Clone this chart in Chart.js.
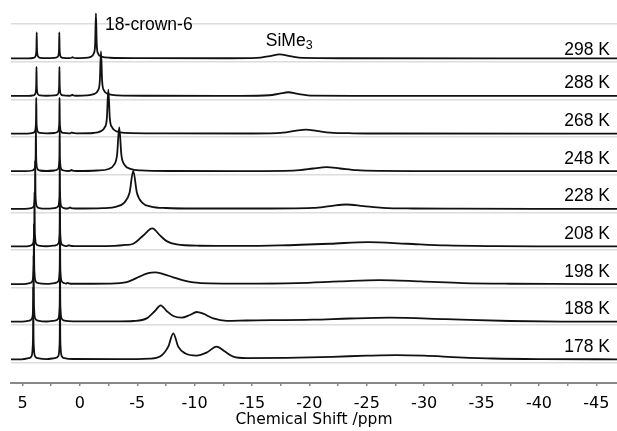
<!DOCTYPE html>
<html>
<head>
<meta charset="utf-8">
<title>VT NMR</title>
<script src="https://cdn.jsdelivr.net/npm/chart.js@4.4.1/dist/chart.umd.min.js"></script>
<style>
  html, body { margin: 0; padding: 0; background: #fff; }
  #wrap { width: 617px; height: 431px; }
</style>
</head>
<body>
<div id="wrap"><canvas id="nmr"></canvas></div>
<script>
/* ── Data: temperatures, spectra as [ppm, intensity] ───── */

var temps = ['298 K', '288 K', '268 K', '248 K', '228 K', '208 K', '198 K', '188 K', '178 K'];

var tickVals = [5, 2.5, 0, -2.5, -5, -7.5, -10, -12.5, -15, -17.5, -20, -22.5, -25,
                -27.5, -30, -32.5, -35, -37.5, -40, -42.5, -45];

var s298 = [
  [6, 0], [4.5, 0], [4.05, 0.5], [3.9, 1.5], [3.81, 5], [3.78, 11], [3.76, 26], [3.74, 11], [3.71, 5], [3.62, 1.5], [3.45, 0.5], [2.9, 0.2],
  [2.2, 0.5], [1.94, 1.5], [1.84, 5], [1.81, 11], [1.79, 26], [1.77, 11], [1.74, 5], [1.65, 1.5], [1.45, 0.5], [0.9, 0.2],
  [0.72, 0.6], [0.64, 1.2], [0.56, 0.6], [0.3, 0.2],
  [-0.4, 0.4], [-0.95, 1.5], [-1.22, 5], [-1.33, 14], [-1.40, 45], [-1.47, 14], [-1.58, 5], [-1.88, 1.8], [-2.6, 0.6], [-5, 0.2],
  [-13, 0.1], [-15.4, 0.4], [-16.55, 2.3], [-17.4, 4], [-18.3, 2.3], [-19.4, 0.4], [-23, 0.1], [-46.8, 0]
];

var s288 = [
  [6, 0], [4.5, 0], [4.06, 0.5], [3.91, 1.6], [3.83, 5.5], [3.8, 12], [3.78, 29], [3.76, 12], [3.73, 5.5], [3.64, 1.6], [3.47, 0.5], [2.9, 0.2],
  [2.2, 0.5], [1.93, 1.6], [1.83, 5.5], [1.8, 12], [1.78, 29], [1.76, 12], [1.73, 5.5], [1.64, 1.6], [1.44, 0.5], [0.9, 0.2],
  [0.74, 0.6], [0.66, 1.2], [0.58, 0.6], [0.3, 0.2],
  [-0.6, 0.5], [-1.2, 1.8], [-1.58, 5.5], [-1.74, 15], [-1.84, 44.5], [-1.94, 15], [-2.1, 5.5], [-2.5, 1.8], [-3.3, 0.6], [-6, 0.2],
  [-14, 0.1], [-16.5, 0.7], [-17.4, 2.3], [-18.16, 3.7], [-19.0, 2], [-20.3, 0.3], [-24, 0.1], [-46.8, 0]
];

var s268 = [
  [6, 0], [4.6, 0], [4.1, 0.6], [3.94, 1.9], [3.85, 6.5], [3.82, 14], [3.8, 36], [3.78, 14], [3.75, 6.5], [3.66, 1.9], [3.48, 0.6], [2.9, 0.2],
  [2.2, 0.6], [1.92, 1.9], [1.82, 6.5], [1.79, 14], [1.77, 36], [1.75, 14], [1.72, 6.5], [1.63, 1.9], [1.43, 0.6], [0.9, 0.2],
  [0.78, 0.6], [0.7, 1.3], [0.62, 0.6], [0.3, 0.2],
  [-1.2, 0.6], [-1.8, 2.2], [-2.15, 6], [-2.35, 15], [-2.48, 44], [-2.61, 15], [-2.82, 6], [-3.2, 2.2], [-4.0, 0.7], [-7, 0.2],
  [-15, 0.1], [-17.7, 1], [-18.74, 2.7], [-19.7, 4], [-20.63, 2.7], [-21.8, 1], [-23.8, 0.3], [-27, 0.1], [-46.8, 0]
];

var s248 = [
  [6, 0], [4.7, 0], [4.15, 0.7], [3.97, 2.2], [3.88, 7.5], [3.85, 16], [3.83, 42], [3.81, 16], [3.78, 7.5], [3.69, 2.2], [3.5, 0.7], [2.9, 0.2],
  [2.2, 0.7], [1.91, 2.2], [1.81, 7.5], [1.78, 16], [1.76, 42], [1.74, 16], [1.71, 7.5], [1.62, 2.2], [1.42, 0.7], [0.95, 0.2],
  [0.82, 0.6], [0.73, 1.3], [0.64, 0.6], [0.3, 0.2],
  [-1.5, 0.7], [-2.5, 2.2], [-2.95, 6], [-3.24, 16], [-3.43, 44], [-3.62, 16], [-3.92, 6], [-4.4, 2.4], [-5.3, 0.8], [-8, 0.2],
  [-16, 0.1], [-19.17, 1], [-20.33, 2.7], [-21.5, 4], [-22.66, 2.7], [-24.1, 1], [-26.1, 0.3], [-30, 0.1], [-46.8, 0]
];

var s228 = [
  [6, 0], [4.8, 0], [4.22, 0.8], [4.03, 2.4], [3.94, 8.5], [3.91, 18], [3.89, 48], [3.87, 18], [3.84, 8.5], [3.75, 2.4], [3.55, 0.8], [2.9, 0.2],
  [2.2, 0.8], [1.9, 2.4], [1.8, 8.5], [1.77, 18], [1.75, 48], [1.73, 18], [1.7, 8.5], [1.61, 2.4], [1.41, 0.8], [1.05, 0.3],
  [0.96, 0.7], [0.86, 1.3], [0.76, 0.7], [0.4, 0.3],
  [-2.0, 0.7], [-3.2, 2.2], [-3.85, 6], [-4.33, 16], [-4.65, 38], [-4.97, 16], [-5.45, 6], [-6.2, 2.3], [-7.5, 0.8], [-10, 0.3],
  [-15, 0.3], [-20.33, 1], [-21.8, 2.7], [-23.2, 4.3], [-24.7, 2.7], [-26.4, 1], [-29, 0.3], [-33, 0.1], [-46.8, 0]
];

var s208 = [
  [6, 0], [4.9, 0], [4.3, 0.9], [4.1, 2.6], [4.0, 9.5], [3.97, 20], [3.95, 54], [3.93, 20], [3.9, 9.5], [3.81, 2.6], [3.6, 0.9], [2.9, 0.2],
  [2.2, 0.9], [1.89, 2.6], [1.79, 9.5], [1.76, 20], [1.74, 54], [1.72, 20], [1.69, 9.5], [1.6, 2.6], [1.4, 0.9], [1.12, 0.3],
  [1.04, 0.8], [0.95, 1.3], [0.86, 0.8], [0.5, 0.3],
  [-3.0, 0.6], [-4.0, 1.5], [-4.65, 2.7], [-5.53, 11], [-6.31, 18], [-6.98, 11], [-7.56, 5.3], [-8.43, 2], [-10.46, 0.7], [-14, 0.5],
  [-17.4, 1], [-21.8, 2.7], [-25.1, 4.4], [-28.5, 2.7], [-31.9, 1], [-36.3, 0.3], [-40, 0.1], [-46.8, 0]
];

var s198 = [
  [6, 0], [5.0, 0], [4.36, 1], [4.15, 2.8], [4.05, 10.5], [4.02, 22], [4.0, 60], [3.98, 22], [3.95, 10.5], [3.85, 2.8], [3.64, 1], [2.9, 0.2],
  [2.2, 1], [1.88, 2.8], [1.78, 10.5], [1.75, 22], [1.73, 60], [1.71, 22], [1.68, 10.5], [1.58, 2.8], [1.38, 1], [1.2, 0.4],
  [1.14, 0.8], [1.06, 1.2], [0.98, 0.8], [0.6, 0.3],
  [-2.5, 0.5], [-4.08, 2], [-5.24, 7.7], [-5.96, 11], [-6.54, 11.7], [-7.27, 10], [-8.14, 6.7], [-9.01, 3.7], [-9.88, 1.7], [-11.33, 0.7], [-14, 0.5],
  [-18.9, 1], [-22.66, 2.7], [-26.1, 4], [-29.7, 2.7], [-33.4, 1], [-37.5, 0.3], [-41, 0.1], [-46.8, 0]
];

var s188 = [
  [6, 0], [5.05, 0], [4.4, 1.1], [4.18, 3], [4.08, 11.5], [4.05, 24], [4.03, 66], [4.01, 24], [3.98, 11.5], [3.88, 3], [3.66, 1.1], [2.9, 0.2],
  [2.2, 1.1], [1.88, 3], [1.78, 11.5], [1.75, 24], [1.73, 66], [1.71, 24], [1.68, 11.5], [1.58, 3], [1.36, 1.1], [0.6, 0.3],
  [-3.5, 0.3], [-4.65, 0.7], [-5.82, 3.3], [-6.54, 10.7], [-7.04, 16.3], [-7.56, 10.7], [-8.14, 5.7], [-8.87, 4], [-9.59, 6.7],
  [-10.17, 9.7], [-10.75, 8], [-11.62, 3.3], [-12.79, 0.9], [-14.5, 1.2],
  [-20.3, 2], [-23.5, 3.2], [-27, 4], [-31.9, 2.5], [-37.5, 0.7], [-42, 0.1], [-46.8, 0]
];

var s178 = [
  [6, 0], [5.1, 0], [4.44, 1.2], [4.21, 3.2], [4.11, 12.5], [4.08, 26], [4.06, 72], [4.04, 26], [4.01, 12.5], [3.91, 3.2], [3.68, 1.2], [2.9, 0.2],
  [2.2, 1.2], [1.88, 3.2], [1.78, 12.5], [1.75, 26], [1.73, 72], [1.71, 26], [1.68, 12.5], [1.58, 3.2], [1.35, 1.2], [0.6, 0.3],
  [-3.5, 0.2], [-6.11, 0.7], [-6.98, 2.7], [-7.7, 12.7], [-8.14, 26], [-8.57, 12.7], [-9.16, 6], [-10.17, 3.7], [-11.04, 6.7],
  [-11.92, 12.7], [-12.64, 7.7], [-13.37, 2.7], [-14.53, 1.2],
  [-18, 1.5], [-22, 2.5], [-25, 3.6], [-27.6, 4.2], [-30, 3.6], [-33, 2], [-36, 0.8], [-40, 0.2], [-46.8, 0]
];

var spectra = [s298, s288, s268, s248, s228, s208, s198, s188, s178];

/* ── Stacking: baseline of trace i on the y scale ───────── */

var PANEL = 37.62;
var BASE  = 23.7;

function offset(i) {
  return BASE + PANEL * (spectra.length - 1 - i);
}

var gridVals = [];
for (var k = -1; k < spectra.length; k++) gridVals.push(offset(k) - 3.5);

var datasets = spectra.map(function (pts, i) {
  return {
    label: temps[i],
    data: pts.map(function (p) { return { x: p[0], y: p[1] + offset(i) }; }),
    borderColor: '#111',
    borderWidth: 1.8,
    pointRadius: 0,
    fill: false,
    cubicInterpolationMode: 'monotone'
  };
});

/* ── Text labels drawn on top ───────────────────────────── */

var labelPlugin = {
  id: 'labels',
  afterDatasetsDraw: function (chart) {
    var ctx = chart.ctx;
    var xs = chart.scales.x, ys = chart.scales.y;
    ctx.save();
    ctx.fillStyle = '#000';
    ctx.textBaseline = 'alphabetic';
    ctx.font = '17.5px "Liberation Sans", Arial, sans-serif';

    ctx.textAlign = 'right';
    temps.forEach(function (t, i) {
      var lift = i === 0 ? 3 : 7.5;
      ctx.fillText(t, chart.chartArea.right - 7, ys.getPixelForValue(offset(i) + lift));
    });

    ctx.textAlign = 'left';
    ctx.fillText('18-crown-6', xs.getPixelForValue(-2.2), ys.getPixelForValue(offset(0) + 28));

    var sx = xs.getPixelForValue(-16.2);
    var sy = ys.getPixelForValue(offset(0) + 12);
    ctx.fillText('SiMe', sx, sy);
    var w = ctx.measureText('SiMe').width;
    ctx.font = '12.5px "Liberation Sans", Arial, sans-serif';
    ctx.fillText('3', sx + w, sy + 2.5);
    ctx.restore();
  }
};

/* ── Chart ──────────────────────────────────────────────── */

new Chart(document.getElementById('nmr'), {
  type: 'line',
  data: { datasets: datasets },
  plugins: [labelPlugin],
  options: {
    responsive: true,
    maintainAspectRatio: false,
    animation: false,
    devicePixelRatio: 1,
    layout: { padding: { left: 11, right: 0, top: 0, bottom: 0 } },
    plugins: { legend: { display: false }, tooltip: { enabled: false } },
    scales: {
      x: {
        type: 'linear',
        reverse: true,
        min: -46.8,
        max: 6,
        afterBuildTicks: function (axis) {
          axis.ticks = tickVals.map(function (v) { return { value: v }; });
        },
        afterFit: function (axis) {
          axis.height = 48;
          axis.paddingLeft = 0;
          axis.paddingRight = 0;
        },
        border: { color: '#888', width: 2 },
        grid: { drawOnChartArea: false, drawTicks: true, tickLength: 3, color: '#888', lineWidth: 1.5 },
        ticks: {
          color: '#000',
          font: { family: 'DejaVu Sans', size: 16, lineHeight: 1 },
          padding: 10,
          maxRotation: 0,
          autoSkip: false,
          callback: function (v) { return v % 5 === 0 ? String(v) : ''; }
        },
        title: {
          display: true,
          text: 'Chemical Shift /ppm',
          color: '#000',
          font: { family: 'DejaVu Sans', size: 15.5, lineHeight: 1 },
          padding: { top: 1, bottom: 3.5 }
        }
      },
      y: {
        min: 0,
        max: 383,
        afterBuildTicks: function (axis) {
          axis.ticks = gridVals.map(function (v) { return { value: v }; });
        },
        afterFit: function (axis) { axis.width = 0; },
        ticks: { display: false },
        border: { display: false },
        grid: { color: '#dcdcdc', lineWidth: 1.5, drawTicks: false }
      }
    }
  }
});
</script>
</body>
</html>
